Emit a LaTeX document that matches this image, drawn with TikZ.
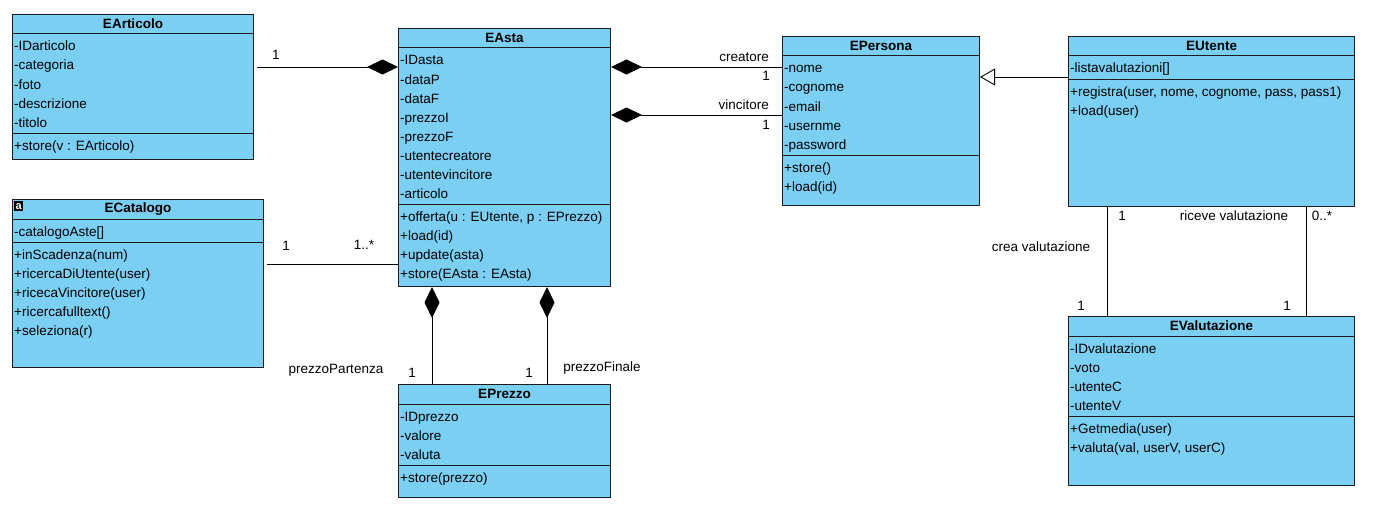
\documentclass[tikz,border=0pt]{standalone}
\usepackage{fontspec}
\setmainfont{Liberation Sans}
\usetikzlibrary{arrows.meta,calc}

\definecolor{classfill}{RGB}{122,207,243}
\definecolor{classedge}{RGB}{28,28,28}

\tikzset{
  classbox/.style={draw=classedge, fill=classfill, line width=1pt, inner sep=0pt, anchor=north west},
  classtitle/.style={font=\bfseries\fontsize{13.5}{16}\selectfont, inner sep=0pt},
  member/.style={font=\fontsize{13.5}{16}\selectfont, inner sep=0pt, anchor=west,
                 text height=9.5pt, text depth=2.5pt},
  rowline/.style={draw=classedge, line width=1pt},
  link/.style={draw=black, line width=0.9pt},
  composite/.style={link, -{Diamond[length=31pt,width=15pt,fill=black]}},
  inherit/.style={link, -{Triangle[open,length=15pt,width=17pt,fill=white]}},
  lbl/.style={font=\fontsize{13.5}{16}\selectfont, inner sep=0pt,
              text height=9.5pt, text depth=2.5pt},
  classicon/.style={fill=black, text=white, font=\bfseries\fontsize{11}{11}\selectfont,
                    inner sep=0pt, minimum width=9pt, minimum height=10pt, anchor=north west},
}

% #1 name, #2 left, #3 top, #4 width, #5 height, #6 title,
% #7 number of attributes, #8 attributes, #9 operations
\newcommand\umlclass[9]{%
  \node[classbox, minimum width=#4pt, minimum height=#5pt] (#1) at (#2,#3) {};
  \node[classtitle] (#1-title) at ($(#1.north)+(0,10)$) {#6};
  \draw[rowline] ($(#1.north west)+(0,20)$) -- ($(#1.north east)+(0,20)$);
  \foreach \m [count=\i] in {#8}
    \node[member] (#1-a\i) at ($(#1.north west)+(2,{19*\i+14.5})$) {\m};
  \draw[rowline] ($(#1.north west)+(0,{19*#7+24})$) -- ($(#1.north east)+(0,{19*#7+24})$);
  \foreach \m [count=\i] in {#9}
    \node[member] (#1-m\i) at ($(#1.north west)+(2,{19*#7+18.5+19*\i})$) {\m};
}

\begin{document}
\begin{tikzpicture}[x=1pt, y=-1pt]
  \fill[white] (0,0) rectangle (1375,511);
  \useasboundingbox (0,0) rectangle (1375,511);

  % classes
  \umlclass{art}{12}{14}{241}{145}{EArticolo}{5}
    {{-IDarticolo},{-categoria},{-foto},{-descrizione},{-titolo}}
    {{+store(v : EArticolo)}}

  \umlclass{asta}{398}{28}{212}{258}{EAsta}{8}
    {{-IDasta},{-dataP},{-dataF},{-prezzoI},{-prezzoF},{-utentecreatore},{-utentevincitore},{-articolo}}
    {{+offerta(u : EUtente, p : EPrezzo)},{+load(id)},{+update(asta)},{+store(EAsta : EAsta)}}

  \umlclass{pers}{782}{36}{197}{169}{EPersona}{5}
    {{-nome},{-cognome},{-email},{-usernme},{-password}}
    {{+store()},{+load(id)}}

  \umlclass{ut}{1068}{36}{286}{170}{EUtente}{1}
    {{-listavalutazioni[]}}
    {{+registra(user, nome, cognome, pass, pass1)},{+load(user)}}

  \umlclass{cat}{12}{199}{251}{168}{ECatalogo}{1}
    {{-catalogoAste[]}}
    {{+inScadenza(num)},{+ricercaDiUtente(user)},{+ricecaVincitore(user)},{+ricercafulltext()},{+seleziona(r)}}
  \node[classicon] (catIcon) at ($(cat.north west)+(2,2)$) {a};

  \umlclass{prz}{398}{384}{212}{113}{EPrezzo}{3}
    {{-IDprezzo},{-valore},{-valuta}}
    {{+store(prezzo)}}

  \umlclass{val}{1068}{316}{286}{169}{EValutazione}{4}
    {{-IDvalutazione},{-voto},{-utenteC},{-utenteV}}
    {{+Getmedia(user)},{+valuta(val, userV, userC)}}

  % EArticolo -- EAsta
  \coordinate (artEnd) at ($(art.north east)+(3,53)$);
  \draw[composite] (artEnd) -- (artEnd -| asta.west);
  \node[lbl] (artMult) at (276,56) {1};

  % EAsta -- EPersona (creatore, vincitore)
  \coordinate (creY) at ($(asta.north east)+(0,39)$);
  \draw[composite] (creY -| pers.west) -- (creY);
  \node[lbl, anchor=east] (creLbl) at (769,58) {creatore};
  \node[lbl] (creMult) at (766,77) {1};

  \coordinate (vinY) at ($(asta.north east)+(0,87)$);
  \draw[composite] (vinY -| pers.west) -- (vinY);
  \node[lbl, anchor=east] (vinLbl) at (769,106) {vincitore};
  \node[lbl] (vinMult) at (766,126) {1};

  % EUtente specialises EPersona
  \coordinate (genY) at ($(pers.north east)+(0,41)$);
  \draw[inherit] (genY -| ut.west) -- (genY);

  % ECatalogo -- EAsta
  \coordinate (catEnd) at ($(cat.north east)+(3,65)$);
  \draw[link] (catEnd) -- (catEnd -| asta.west);
  \node[lbl] (catMult) at (286,247) {1};
  \node[lbl] (astaMult) at (364,246) {1..*};

  % EAsta -- EPrezzo
  \coordinate (ppX) at ($(prz.north west)+(34,0)$);
  \draw[composite] (ppX) -- (ppX |- asta.south);
  \coordinate (pfX) at ($(prz.north west)+(149,0)$);
  \draw[composite] (pfX) -- (pfX |- asta.south);
  \node[lbl] (ppLbl) at (336,370) {prezzoPartenza};
  \node[lbl] (ppMult) at (412,374) {1};
  \node[lbl] (pfMult) at (529,374) {1};
  \node[lbl] (pfLbl) at (602,368) {prezzoFinale};

  % EUtente -- EValutazione
  \coordinate (cvX) at ($(val.north west)+(39,0)$);
  \draw[link] (cvX) -- (cvX |- ut.south);
  \coordinate (rvX) at ($(val.north west)+(238,0)$);
  \draw[link] (rvX) -- (rvX |- ut.south);
  \node[lbl] (cvMultTop) at (1122,217) {1};
  \node[lbl] (rvLbl) at (1234,217) {riceve valutazione};
  \node[lbl] (rvMultTop) at (1322,217) {0..*};
  \node[lbl] (cvLbl) at (1041,248) {crea valutazione};
  \node[lbl] (cvMultBot) at (1081,307) {1};
  \node[lbl] (rvMultBot) at (1287,307) {1};
\end{tikzpicture}
\end{document}
